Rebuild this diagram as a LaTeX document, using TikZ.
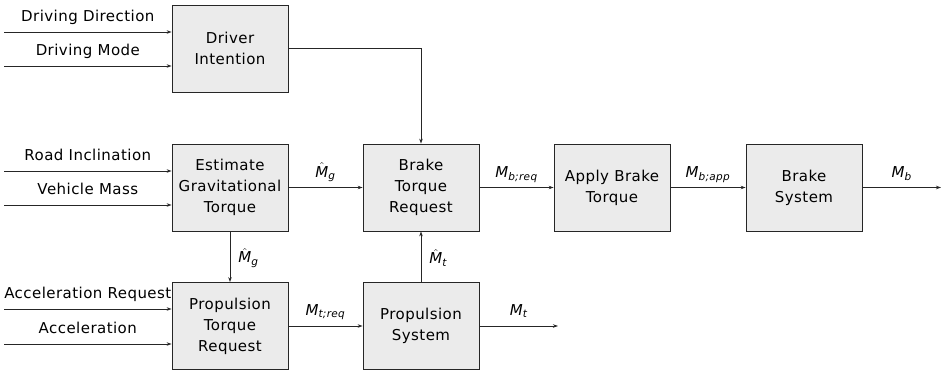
\documentclass[tikz,border=0pt]{standalone}
\usepackage{amsmath}
\usepackage{fontspec}
\setmainfont[LetterSpace=3]{DejaVu Sans}
\usetikzlibrary{arrows.meta}
\newcommand\Msym[2]{\ensuremath{\textit{M}_{\textit{#2}}}}
\newcommand\Mhsym[1]{\ensuremath{\hat{\textit{M}}_{\textit{#1}}}}
\begin{document}
\begin{tikzpicture}[x=1pt,y=-1pt,
  font=\fontsize{15}{21}\selectfont,
  blk/.style={draw=black!85, line width=0.8pt, fill=black!8, minimum width=116pt, minimum height=87pt, align=center, inner sep=0pt},
  arr/.style={draw=black!85, line width=0.8pt, -{Stealth[length=5pt,width=3.5pt]}},
  lbl/.style={anchor=base, yshift=10.5pt, inner sep=0pt},
  vlbl/.style={anchor=west, inner sep=0pt, xshift=8pt, yshift=-1pt}]
\useasboundingbox (0,0) rectangle (943,373);
\node[blk] (DI) at (230,48.5) {Driver\\Intention};
\node[blk] (EG) at (230,187.5) {Estimate\\Gravitational\\Torque};
\node[blk] (PT) at (230,326) {Propulsion\\Torque\\Request};
\node[blk] (BT) at (421,187.5) {Brake\\Torque\\Request};
\node[blk] (AB) at (612,187.5) {Apply Brake\\Torque};
\node[blk] (BS) at (804,187.5) {Brake\\System};
\node[blk] (PS) at (421,326) {Propulsion\\System};
\coordinate (i1) at (4,32);
\coordinate (i2) at (4,66);
\coordinate (i3) at (4,171);
\coordinate (i4) at (4,205);
\coordinate (i5) at (4,309);
\coordinate (i6) at (4,344);
\coordinate (o1) at (941,187.5);
\coordinate (o2) at (558,326);
\draw[arr] (i1) -- node[lbl] {Driving Direction} (i1 -| DI.west);
\draw[arr] (i2) -- node[lbl] {Driving Mode} (i2 -| DI.west);
\draw[arr] (i3) -- node[lbl] {Road Inclination} (i3 -| EG.west);
\draw[arr] (i4) -- node[lbl] {Vehicle Mass} (i4 -| EG.west);
\draw[arr] (i5) -- node[lbl] {Acceleration Request} (i5 -| PT.west);
\draw[arr] (i6) -- node[lbl] {Acceleration} (i6 -| PT.west);
\draw[arr] (DI.east) -| (BT.north);
\draw[arr] (EG) -- node[lbl] {\Mhsym{g}} (BT);
\draw[arr] (BT) -- node[lbl] {\Msym{M}{b;req}} (AB);
\draw[arr] (AB) -- node[lbl] {\Msym{M}{b;app}} (BS);
\draw[arr] (BS) -- node[lbl] {\Msym{M}{b}} (o1);
\draw[arr] (EG) -- node[vlbl] {\Mhsym{g}} (PT);
\draw[arr] (PT) -- node[lbl] {\Msym{M}{t;req}} (PS);
\draw[arr] (PS) -- node[vlbl] {\Mhsym{t}} (BT);
\draw[arr] (PS) -- node[lbl] {\Msym{M}{t}} (o2);
\end{tikzpicture}
\end{document}
